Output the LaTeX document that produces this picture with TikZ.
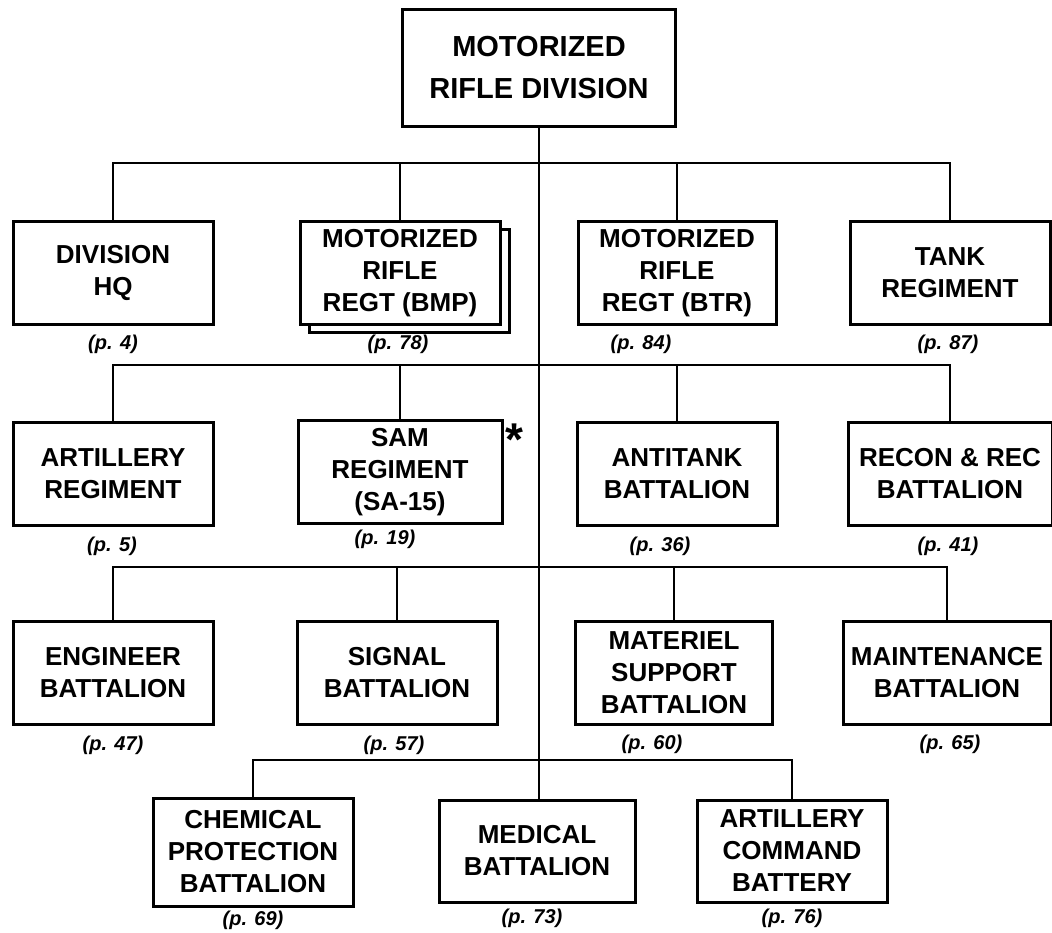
\documentclass[tikz,border=0pt]{standalone}
\usepackage{fontspec}
\setmainfont{Liberation Sans}
\begin{document}
\begin{tikzpicture}[x=1pt,y=-1pt,
  box/.style={draw, line width=3pt, fill=white, inner sep=0pt, align=center,
    minimum width=200pt, minimum height=103pt,
    font=\fontsize{26}{32}\selectfont\bfseries},
  pg/.style={font=\fontsize{20}{24}\selectfont\bfseries\itshape, inner sep=0pt},
  conn/.style={line width=2.7pt}]
\useasboundingbox (0,0) rectangle (1052,932);

% top
\node[box, minimum width=273pt, minimum height=117pt,
  font=\fontsize{29}{42}\selectfont\bfseries] (top) at (539,68) {MOTORIZED\\RIFLE DIVISION};

% row 1
\node[box] (hq) at (113,273) {DIVISION\\HQ};
\node[box] (bmpb) at (409,281) {};
\node[box] (bmp) at (400,273) {MOTORIZED\\RIFLE\\REGT (BMP)};
\node[box, minimum width=198pt] (btr) at (677,273) {MOTORIZED\\RIFLE\\REGT (BTR)};
\node[box] (tank) at (950,273) {TANK\\REGIMENT};

% row 2
\node[box] (art) at (113,474) {ARTILLERY\\REGIMENT};
\node[box, minimum width=204pt] (sam) at (400,472) {SAM\\REGIMENT\\(SA-15)};
\node[box] (at) at (677,474) {ANTITANK\\BATTALION};
\node[box, minimum width=204pt] (recon) at (950,474) {RECON \& REC\\BATTALION};
\node[font=\fontsize{46}{46}\selectfont\bfseries, inner sep=0pt] (ast) at (514,440) {*};

% row 3
\node[box] (eng) at (113,673) {ENGINEER\\BATTALION};
\node[box] (sig) at (397,673) {SIGNAL\\BATTALION};
\node[box, minimum width=197pt] (mat) at (674,673) {MATERIEL\\SUPPORT\\BATTALION};
\node[box, minimum width=208pt] (maint) at (947,673) {MAINTENANCE\\BATTALION};

% row 4
\node[box, minimum height=108pt] (chem) at (253,852) {CHEMICAL\\PROTECTION\\BATTALION};
\node[box, minimum width=196pt, minimum height=102pt] (med) at (537,851) {MEDICAL\\BATTALION};
\node[box, minimum width=190pt, minimum height=102pt] (acb) at (792,851) {ARTILLERY\\COMMAND\\BATTERY};

% page labels
\node[pg] (p4) at (113,344) {(p. 4)};
\node[pg] (p78) at (398,344) {(p. 78)};
\node[pg] (p84) at (641,344) {(p. 84)};
\node[pg] (p87) at (948,344) {(p. 87)};
\node[pg] (p5) at (112,546) {(p. 5)};
\node[pg] (p19) at (385,539) {(p. 19)};
\node[pg] (p36) at (660,546) {(p. 36)};
\node[pg] (p41) at (948,546) {(p. 41)};
\node[pg] (p47) at (113,745) {(p. 47)};
\node[pg] (p57) at (394,745) {(p. 57)};
\node[pg] (p60) at (652,744) {(p. 60)};
\node[pg] (p65) at (950,744) {(p. 65)};
\node[pg] (p69) at (253,920) {(p. 69)};
\node[pg] (p73) at (532,918) {(p. 73)};
\node[pg] (p76) at (792,918) {(p. 76)};

% buses
\coordinate (bus1) at (539,163);
\coordinate (bus2) at (539,365);
\coordinate (bus3) at (539,567);
\coordinate (bus4) at (539,760);

\draw[conn] (hq.north) |- (bus1) -| (tank.north);
\draw[conn] (bmp.north) -- (bmp.north |- bus1);
\draw[conn] (btr.north) -- (btr.north |- bus1);

\draw[conn] (art.north) |- (bus2) -| (recon.north);
\draw[conn] (sam.north) -- (sam.north |- bus2);
\draw[conn] (at.north) -- (at.north |- bus2);

\draw[conn] (eng.north) |- (bus3) -| (maint.north);
\draw[conn] (sig.north) -- (sig.north |- bus3);
\draw[conn] (mat.north) -- (mat.north |- bus3);

\draw[conn] (chem.north) |- (bus4) -| (acb.north);

\draw[conn] (top.south) -- (top.south |- med.north);
\end{tikzpicture}
\end{document}
